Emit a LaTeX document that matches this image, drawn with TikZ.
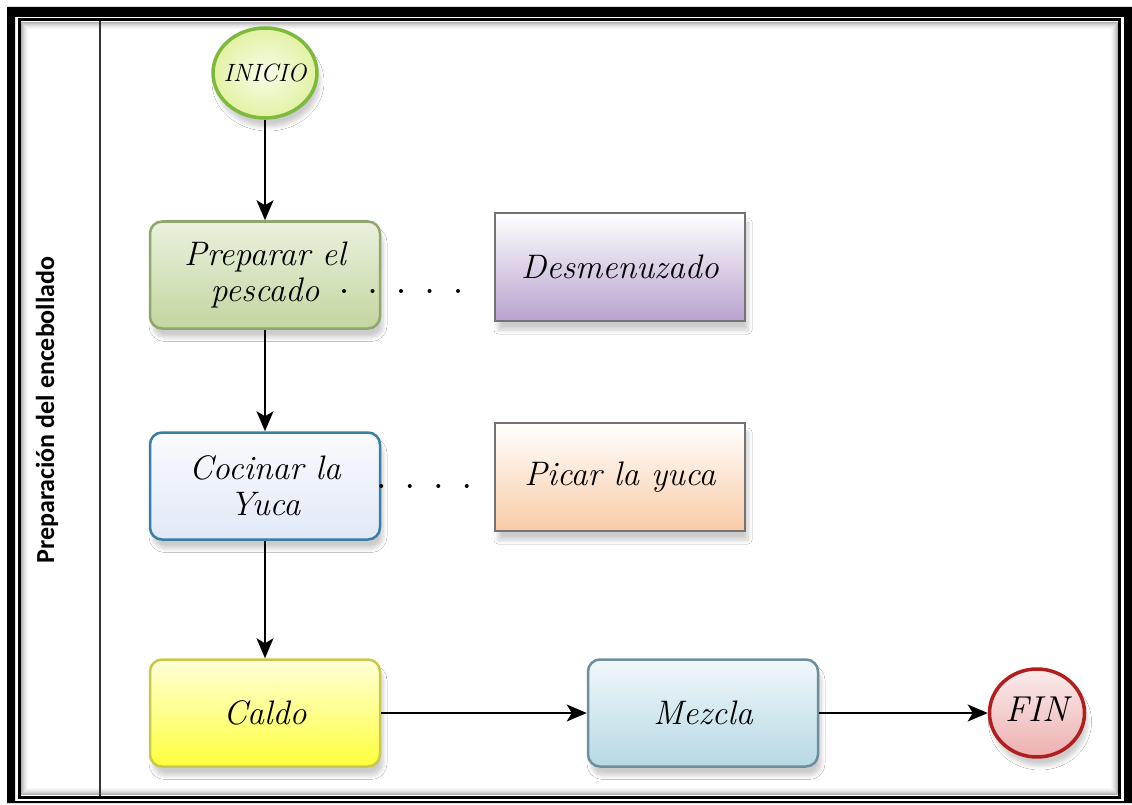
\documentclass[tikz,border=0pt]{standalone}
\usepackage{fontspec}
\newfontfamily\lanefont{Carlito}
\usetikzlibrary{arrows.meta,shapes.geometric,shadows.blur}

\definecolor{iniFill}{HTML}{E2F2A4}
\definecolor{iniDraw}{HTML}{7DBA3C}
\definecolor{prepFill}{HTML}{C3D6A0}
\definecolor{prepDraw}{HTML}{8FA66C}
\definecolor{desmFill}{HTML}{B9A2CF}
\definecolor{cocFill}{HTML}{E1E8F7}
\definecolor{cocDraw}{HTML}{3A7EA6}
\definecolor{picFill}{HTML}{F9CBA6}
\definecolor{calFill}{HTML}{FFFF3C}
\definecolor{calDraw}{HTML}{C8C84C}
\definecolor{mezFill}{HTML}{B6D9E5}
\definecolor{mezDraw}{HTML}{6E8E9B}
\definecolor{finFill}{HTML}{EDB0B0}
\definecolor{finDraw}{HTML}{B01E1E}

\tikzset{
    flow/.style={line width=1.6pt, -{Stealth[length=20pt,width=17pt,inset=5pt]}},
    assoc/.style={line width=4pt, line cap=round, dash pattern=on 0pt off 28.5pt},
    boxshadow/.style={blur shadow={shadow xshift=3pt, shadow yshift=-9pt, shadow opacity=20, shadow blur steps=8, shadow blur radius=4pt}},
    task/.style={rectangle, rounded corners=12pt, line width=2.5pt, boxshadow,
        minimum width=230pt, minimum height=107pt, align=center,
        font=\itshape\fontsize{34}{36}\selectfont, shading angle=45},
    note/.style={rectangle, line width=1.4pt, draw=black!55, boxshadow,
        minimum width=250pt, minimum height=108pt, align=center,
        font=\itshape\fontsize{34}{36}\selectfont, shading angle=45},
    event/.style={ellipse, line width=3.5pt, boxshadow, inner sep=-8pt}
}

\begin{document}
\begin{tikzpicture}[x=1pt, y=-1pt]
    \useasboundingbox (0,0) rectangle (1132,805);
    \fill[white] (0,0) rectangle (1132,805);

    % frame
    \fill[black, even odd rule] (7,7) rectangle (1132,803) (15,17) rectangle (1124,801);
    \foreach \k/\o in {1/.30,2/.24,3/.18,4/.13,5/.09,6/.06,7/.03}
    {
        \draw[line width=1pt, black, opacity=\o] (20.5+\k,21.5+\k) rectangle (1118.5-\k,795.5-\k);
    }
    \draw[line width=3pt] (19.5,20) rectangle (1119.5,797.5);

    % lane
    \draw[line width=2pt, black!80] (100,21) -- (100,796);
    \node[rotate=90, font=\lanefont\bfseries\fontsize{26}{30}\selectfont] (lane) at (47,410) {Preparación del encebollado};

    % events
    \node[event, minimum width=104pt, minimum height=90pt, draw=iniDraw, inner color=iniFill!25, outer color=iniFill,
          font=\itshape\fontsize{25}{28}\selectfont] (inicio) at (265,73) {INICIO};
    \node[event, minimum width=95pt, minimum height=88pt, draw=finDraw, top color=finFill!25, bottom color=finFill,
          font=\itshape\fontsize{36}{38}\selectfont] (fin) at (1037,713) {\raisebox{8pt}{FIN}};

    % tasks
    \node[task, draw=prepDraw, top color=prepFill!35, bottom color=prepFill] (prep) at (265,275) {Preparar el\\pescado};
    \node[task, draw=cocDraw, top color=cocFill!20, bottom color=cocFill] (coc) at (265,486) {Cocinar la\\Yuca};
    \node[task, draw=calDraw, top color=calFill!20, bottom color=calFill] (caldo) at (265,713) {Caldo};
    \node[task, draw=mezDraw, top color=mezFill!20, bottom color=mezFill] (mezcla) at (703,713) {Mezcla};

    % annotations
    \node[note, top color=white, bottom color=desmFill] (desm) at (620,267) {Desmenuzado};
    \node[note, top color=white, bottom color=picFill] (picar) at (620,477) {Picar la yuca};

    \coordinate (pdots) at (344,291);
    \draw[assoc, shorten >=30pt] (pdots) -- (pdots -| desm.west);
    \draw[assoc] (coc.east) -- (coc.east -| picar.west);

    % sequence flow
    \draw[flow] (inicio) -- (prep);
    \draw[flow] (prep) -- (coc);
    \draw[flow] (coc) -- (caldo);
    \draw[flow] (caldo) -- (mezcla);
    \draw[flow] (mezcla) -- (fin);
\end{tikzpicture}
\end{document}
